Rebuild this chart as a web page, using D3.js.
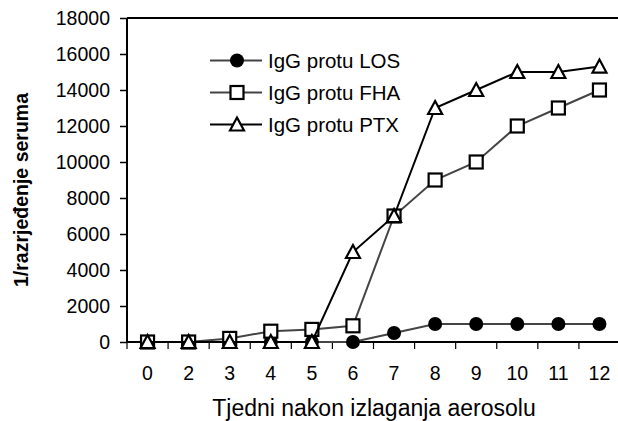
<!DOCTYPE html>
<html><head><meta charset="utf-8">
<script src="https://cdn.jsdelivr.net/npm/d3@7"></script>
<style>body{margin:0;background:#fff}svg{display:block}text{font-family:Arial,"Liberation Sans",sans-serif}</style>
</head><body>
<svg id="c" width="618" height="421"></svg>
<script>
const categories = ["0","2","3","4","5","6","7","8","9","10","11","12"];
const losValues = [0,0,0,0,0,0,500,1000,1000,1000,1000,1000];
const fhaValues = [0,0,200,600,700,900,7000,9000,10000,12000,13000,14000];
const ptxValues = [0,0,0,0,0,5000,7000,13000,14000,15000,15000,15300];
const seriesNames = ["IgG protu LOS","IgG protu FHA","IgG protu PTX"];
const yTicks = [0,2000,4000,6000,8000,10000,12000,14000,16000,18000];

const svg = d3.select("#c");
const m = {l:127, t:18, r:620, b:342};
const x = d3.scaleBand().domain(categories).range([m.l, m.r]);
const y = d3.scaleLinear().domain([0,18000]).range([m.b, m.t]);
const FF = "Arial,'Liberation Sans',sans-serif";

// top border
svg.append("line").attr("x1",m.l).attr("x2",m.r).attr("y1",m.t).attr("y2",m.t)
  .attr("stroke","#000").attr("stroke-width",2);

// y axis
const ya = svg.append("g").attr("transform",`translate(${m.l},0)`)
  .call(d3.axisLeft(y).tickValues(yTicks).tickSize(7).tickPadding(10).tickFormat(d3.format("d")));
ya.select(".domain").attr("stroke-width",2).attr("d",`M0,${m.t}V${m.b}`);
ya.selectAll(".tick line").attr("stroke-width",1.5);
ya.selectAll("text").attr("font-size",19.5).attr("fill","#000").style("font-family",FF);

// x axis
const xa = svg.append("g").attr("transform",`translate(0,${m.b})`)
  .call(d3.axisBottom(x).tickSize(0).tickPadding(24));
xa.select(".domain").attr("stroke-width",2).attr("d",`M${m.l},0H${m.r}`);
xa.selectAll("text").attr("font-size",19.5).attr("fill","#000").style("font-family",FF);
// boundary ticks
const bounds = categories.map(c => x(c)).concat([m.r]);
svg.append("g").selectAll("line").data(bounds).join("line")
  .attr("x1",d=>d).attr("x2",d=>d).attr("y1",m.b).attr("y2",m.b+7)
  .attr("stroke","#000").attr("stroke-width",1.2);

const cx = c => x(c) + x.bandwidth()/2;
const line = d3.line().x((d,i)=>cx(categories[i])).y(d=>y(d));

const series = [
  {name:seriesNames[0], vals:losValues, color:"#444", marker:"circle"},
  {name:seriesNames[1], vals:fhaValues, color:"#444", marker:"square"},
  {name:seriesNames[2], vals:ptxValues, color:"#000", marker:"triangle"}
];

function drawMarker(g, type, px, py){
  if(type==="circle"){
    g.append("circle").attr("cx",px).attr("cy",py).attr("r",7).attr("fill","#000");
  } else if(type==="square"){
    g.append("rect").attr("x",px-6.5).attr("y",py-6.5).attr("width",13).attr("height",13)
      .attr("fill","#fff").attr("stroke","#000").attr("stroke-width",2.2);
  } else {
    g.append("path").attr("d",`M${px},${py-7}L${px+7},${py+6}L${px-7},${py+6}Z`)
      .attr("fill","#fff").attr("stroke","#000").attr("stroke-width",2.2).attr("stroke-linejoin","miter");
  }
}

series.forEach(s=>{
  const g = svg.append("g");
  g.append("path").datum(s.vals).attr("d",line).attr("fill","none")
    .attr("stroke",s.color).attr("stroke-width",2);
  s.vals.forEach((v,i)=>drawMarker(g, s.marker, cx(categories[i]), y(v)));
});

// legend
series.forEach((s,i)=>{
  const ly = 60.5 + i*32;
  const g = svg.append("g");
  g.append("line").attr("x1",210).attr("x2",262).attr("y1",ly).attr("y2",ly)
    .attr("stroke",s.color).attr("stroke-width",2);
  drawMarker(g, s.marker, 237, ly);
  g.append("text").attr("x",268).attr("y",ly).attr("dy","0.36em")
    .attr("font-size",20.5).attr("fill","#000").text(s.name);
});

// axis titles
svg.append("text").attr("x",374).attr("y",416)
  .attr("text-anchor","middle").attr("font-size",23).text("Tjedni nakon izlaganja aerosolu");
svg.append("text").attr("transform","translate(28,190) rotate(-90)")
  .attr("text-anchor","middle").attr("font-size",19.5).attr("font-weight","bold")
  .text("1/razrjeđenje seruma");
</script>
</body></html>
